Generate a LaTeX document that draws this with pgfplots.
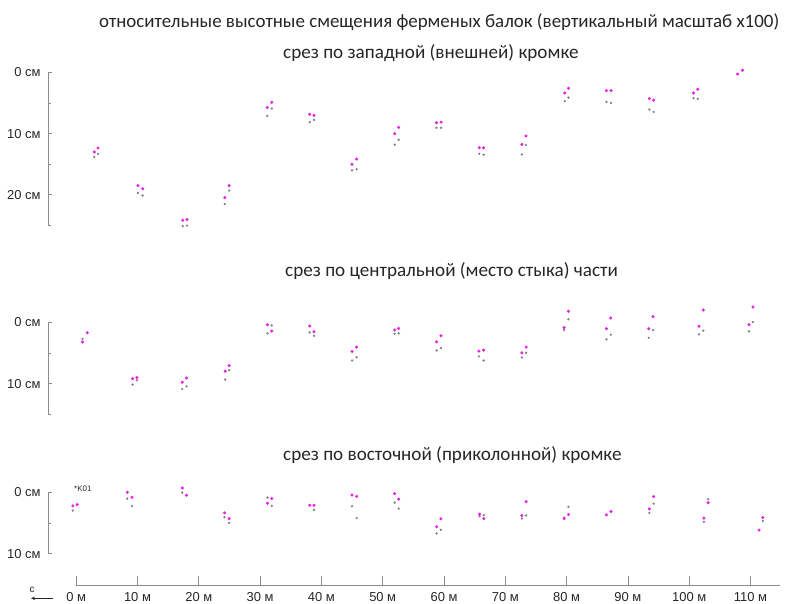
\documentclass[border=0pt]{standalone}
\usepackage{fontspec}
\setmainfont{Liberation Sans}
\newfontfamily\titlefont{Carlito}
\usepackage{pgfplots}
\pgfplotsset{compat=1.18}
\usetikzlibrary{arrows.meta}
\definecolor{mag}{RGB}{232,32,232}
\definecolor{gr}{RGB}{128,128,128}
\definecolor{axgray}{RGB}{140,140,140}

\pgfplotsset{panel/.style={
  x=6.13bp, y=6.13bp, y dir=reverse,
  xmin=-4.6, xmax=114.8, ymin=0,
  axis x line=none, axis y line*=left,
  anchor=north west,
  tick align=inside,
  major tick length=4bp, minor tick length=2.5bp,
  every tick/.style={axgray, line width=0.8pt},
  axis line style={-, axgray, line width=0.8pt},
  ticklabel style={font=\fontsize{13}{15}\selectfont, text=black!85},
  yticklabel style={xshift=-4bp},
  clip=false,
},
gpt/.style={only marks, mark=*, mark size=0.95bp, gr, mark options={draw=none, fill=gr}},
mpt/.style={only marks, mark=*, mark size=1.35bp, mag, mark options={draw=none, fill=mag}},
}

\begin{document}
\begin{tikzpicture}
\path[use as bounding box] (0,0) rectangle (787bp,604bp);

\node[anchor=base west, inner sep=0, font=\titlefont\fontsize{19}{23}\selectfont, text=black!85] at (99bp,576.7bp)
  {относительные высотные смещения ферменых балок (вертикальный масштаб x100)};
\node[anchor=base west, inner sep=0, font=\titlefont\fontsize{19.2}{23}\selectfont, text=black!85] at (283bp,545.7bp)
  {срез по западной (внешней) кромке};
\node[anchor=base west, inner sep=0, font=\titlefont\fontsize{19.2}{23}\selectfont, text=black!85] at (285bp,327.3bp)
  {срез по центральной (место стыка) части};
\node[anchor=base west, inner sep=0, font=\titlefont\fontsize{19.2}{23}\selectfont, text=black!85] at (283bp,143bp)
  {срез по восточной (приколонной) кромке};

% panel 1: west edge
\begin{axis}[panel, at={(48bp,531.7bp)}, ymax=25,
  ytick={0,10,20}, yticklabels={0 см,10 см,20 см}, minor ytick={5,15,25}]
\addplot[gpt] table {
2.94 13.8
3.55 13.3
10.08 19.67
10.84 20.1
17.37 25.1
18.08 25.0
24.24 21.5
24.95 19.3
31.16 7.1
31.91 5.9
38.1 8.13
38.8 7.76
45.0 16.0
45.75 15.8
51.96 11.8
52.6 11.0
58.77 9.06
59.53 9.06
65.74 13.28
66.45 13.45
72.7 13.4
73.37 11.87
79.7 4.72
80.3 4.13
86.5 4.83
87.25 4.99
93.5 6.08
94.2 6.46
100.7 4.23
101.4 4.34
};
\addplot[mpt] table {
2.94 13.0
3.55 12.36
10.08 18.49
10.84 19.0
17.37 24.13
18.08 24.0
24.24 20.44
24.95 18.49
31.16 5.75
31.91 4.88
38.1 6.83
38.8 7.0
45.0 15.0
45.75 14.15
51.96 10.03
52.6 9.0
58.77 8.24
59.53 8.13
65.74 12.3
66.45 12.3
72.7 11.77
73.37 10.4
79.7 3.37
80.3 2.6
86.5 2.99
87.25 2.99
93.5 4.29
94.2 4.55
100.7 3.37
101.4 2.76
107.9 0.28
108.7 -0.33
};
\end{axis}

% panel 2: centre
\begin{axis}[panel, at={(48bp,281.7bp)}, ymax=15,
  ytick={0,10}, yticklabels={0 см,10 см}, minor ytick={5,15}]
\addplot[gpt] table {
1.03 2.69
9.2 10.16
9.9 9.46
17.3 10.88
18.0 10.44
24.3 9.34
24.95 7.82
31.2 1.8
31.9 0.49
38.1 1.64
38.8 2.2
45.0 6.23
45.75 5.69
51.96 1.87
52.6 1.8
58.8 4.59
59.5 4.21
65.7 5.57
66.45 6.23
72.7 5.74
73.4 4.98
79.6 1.26
80.3 -0.49
86.5 2.79
87.2 2.03
93.4 2.52
94.1 1.26
101.6 1.97
102.3 1.37
109.75 1.48
110.4 -0.05
};
\addplot[mpt] table {
1.03 3.23
1.8 1.7
9.2 9.18
9.9 9.02
17.3 9.79
18.0 9.08
24.3 7.98
24.95 7.05
31.2 0.39
31.9 1.43
38.1 0.61
38.8 1.54
45.0 4.75
45.75 4.05
51.96 1.26
52.6 0.98
58.8 3.18
59.5 2.2
65.7 4.7
66.45 4.54
72.7 4.98
73.4 4.05
79.6 0.88
80.3 -1.8
86.5 1.04
87.2 -0.7
93.4 1.04
94.1 -0.92
101.6 0.66
102.3 -2.0
109.75 0.39
110.4 -2.5
};
\end{axis}

% panel 3: east edge
\begin{axis}[panel, at={(48bp,111.7bp)}, ymax=10,
  ytick={0,10}, yticklabels={0 см,10 см}, minor ytick={5}]
\addplot[gpt] table {
-0.54 2.98
8.33 1.03
9.1 2.27
17.3 0.06
24.2 4.05
24.95 4.97
31.2 0.87
31.9 2.22
38.8 2.87
45.0 2.27
45.75 4.21
51.96 1.69
52.6 2.66
58.8 6.71
59.5 6.11
65.8 3.89
66.5 3.73
72.7 4.28
73.4 3.79
79.6 4.12
80.3 2.38
93.5 3.36
94.2 1.85
102.4 4.81
103.1 1.13
112.0 4.65
};
\addplot[mpt] table {
-0.54 2.22
0.16 2.0
8.33 0.0
9.1 0.81
17.3 -0.7
18.0 0.49
24.2 3.36
24.95 4.28
31.2 1.79
31.9 1.03
38.1 2.11
38.8 2.11
45.0 0.44
45.75 0.65
51.96 0.22
52.6 1.13
58.8 5.62
59.5 4.33
65.8 3.57
66.5 4.28
72.7 3.79
73.4 1.52
79.6 4.28
80.3 3.63
86.5 3.68
87.25 3.14
93.5 2.71
94.2 0.71
102.4 4.21
103.1 1.69
111.4 6.16
112.0 4.12
};
\end{axis}

% distance axis
\begin{axis}[x=6.13bp, y=1bp, xmin=0, xmax=114.8, ymin=0, ymax=1,
  at={(76.2bp,19bp)}, anchor=south west,
  axis x line*=bottom, axis y line=none,
  tick align=inside, major tick length=9bp,
  every tick/.style={axgray, line width=0.8pt},
  axis line style={-, axgray, line width=0.8pt},
  xtick={0,10,20,30,40,50,60,70,80,90,100,110},
  xticklabels={0 м,10 м,20 м,30 м,40 м,50 м,60 м,70 м,80 м,90 м,100 м,110 м},
  xticklabel style={font=\fontsize{13}{15}\selectfont, text=black!85, yshift=-3.5bp},
  clip=false]
\end{axis}

\node[anchor=west, inner sep=0, font=\fontsize{8}{10}\selectfont, text=black!85] at (74bp,115bp) {*K01};
\node[inner sep=0, font=\fontsize{10}{12}\selectfont, text=black!85] at (32bp,14.5bp) {с};
\draw[-{Stealth[length=4bp,width=3.5bp]}, line width=0.8pt, black!85] (53bp,5.7bp) -- (31bp,5.7bp);
\end{tikzpicture}
\end{document}
